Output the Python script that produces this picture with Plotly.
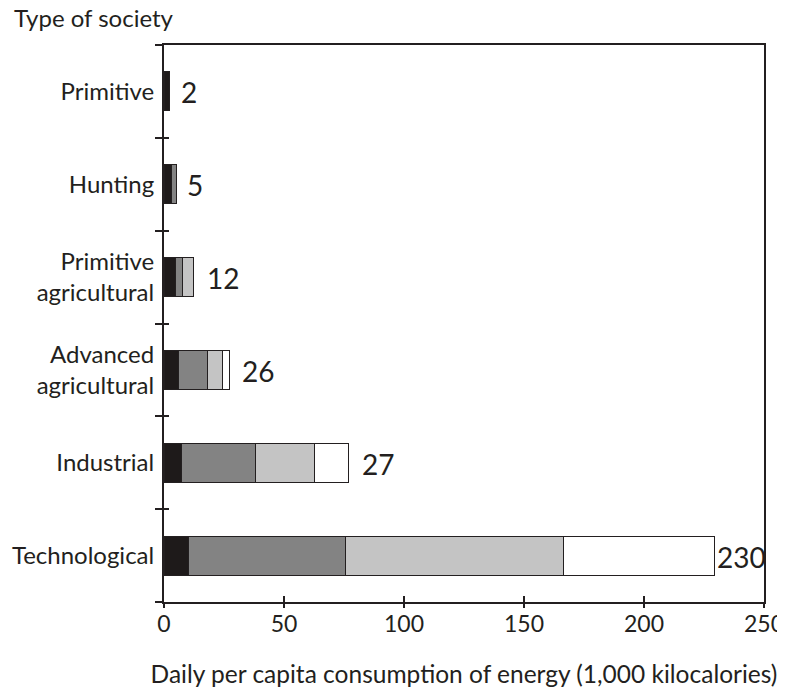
import plotly.graph_objects as go

# Categories, top to bottom
categories = ["Primitive", "Hunting", "Primitive<br>agricultural",
              "Advanced<br>agricultural", "Industrial", "Technological"]
# Energy by use (1,000 kcal per person per day)
food = [2.2, 3.2, 4.6, 6.0, 7.4, 10.0]
home_commerce = [None, 2.1, 3.3, 12.0, 30.8, 65.5]
industry_agriculture = [None, None, 4.4, 6.5, 24.6, 90.8]
transportation = [None, None, None, 2.7, 13.9, 63.0]
total_labels = ["2", "5", "12", "26", "27", "230"]
x_ticks = [0, 50, 100, 150, 200, 250]

INK = "#231f20"
FONT = "Lato"

series = [
    ("Food", food, "#1e1a1a"),
    ("Home and commerce", home_commerce, "#838383"),
    ("Industry and agriculture", industry_agriculture, "#c4c4c4"),
    ("Transportation", transportation, "#ffffff"),
]

fig = go.Figure()
for name, vals, col in series:
    fig.add_trace(go.Bar(
        y=categories, x=vals, name=name, orientation="h",
        marker=dict(color=col, line=dict(color=INK, width=1)),
        width=0.42, showlegend=False,
    ))

# dummy trace for secondary tick axes
fig.add_trace(go.Scatter(x=[None], y=[None], xaxis="x2", yaxis="y2",
                         showlegend=False, hoverinfo="skip"))

totals = [sum(v for v in vals if v is not None) for vals in
          zip(food, home_commerce, industry_agriculture, transportation)]
shifts = [10, 8, 11, 11, 12, 1]
for cat, tot, lab, sh in zip(categories, totals, total_labels, shifts):
    fig.add_annotation(x=tot, y=cat, text=lab, showarrow=False,
                       xanchor="left", yanchor="middle", xshift=sh, yshift=-1,
                       font=dict(family=FONT, size=28, color=INK))

fig.add_annotation(xref="paper", yref="paper", x=-0.2533, y=1.050,
                   text="Type of society", showarrow=False,
                   xanchor="left", yanchor="middle",
                   font=dict(family=FONT, size=24, color=INK))

fig.update_layout(
    width=777, height=683,
    margin=dict(l=156, r=21, t=37, b=89),
    paper_bgcolor="white", plot_bgcolor="white",
    barmode="stack", bargap=0.58,
    font=dict(family=FONT, size=24, color=INK),
    xaxis=dict(range=[0, 250], tickvals=x_ticks, ticks="inside", ticklen=6,
               tickwidth=1.5, tickcolor=INK, showline=True, linewidth=2,
               linecolor=INK, mirror=True, showgrid=False, zeroline=False,
               automargin=False,
               tickfont=dict(family=FONT, size=23, color=INK),
               title=dict(text="Daily per capita consumption of energy (1,000 kilocalories)",
                          font=dict(family=FONT, size=24.5, color=INK), standoff=30)),
    xaxis2=dict(range=[0, 250], tickvals=x_ticks, ticks="outside", ticklen=5,
                tickwidth=1.5, tickcolor=INK, overlaying="x", anchor="y",
                side="bottom", showticklabels=False, showgrid=False,
                zeroline=False, showline=False),
    yaxis=dict(type="category", categoryorder="array",
               categoryarray=list(reversed(categories)), range=[-0.5, 5.5],
               tickson="boundaries", ticks="outside", ticklen=7, tickwidth=1.5,
               tickcolor=INK, showline=True, linewidth=2, linecolor=INK,
               mirror=True, showgrid=False, zeroline=False, automargin=False,
               ticklabelstandoff=3,
               tickfont=dict(family=FONT, size=24, color=INK)),
    yaxis2=dict(range=[-0.5, 5.5], tickvals=[-0.5, 0.5, 1.5, 2.5, 3.5, 4.5],
                ticks="inside", ticklen=5, tickwidth=1.5, tickcolor=INK,
                overlaying="y", anchor="x", side="left", showticklabels=False,
                showgrid=False, zeroline=False, showline=False),
)

fig.write_html("out.html")
